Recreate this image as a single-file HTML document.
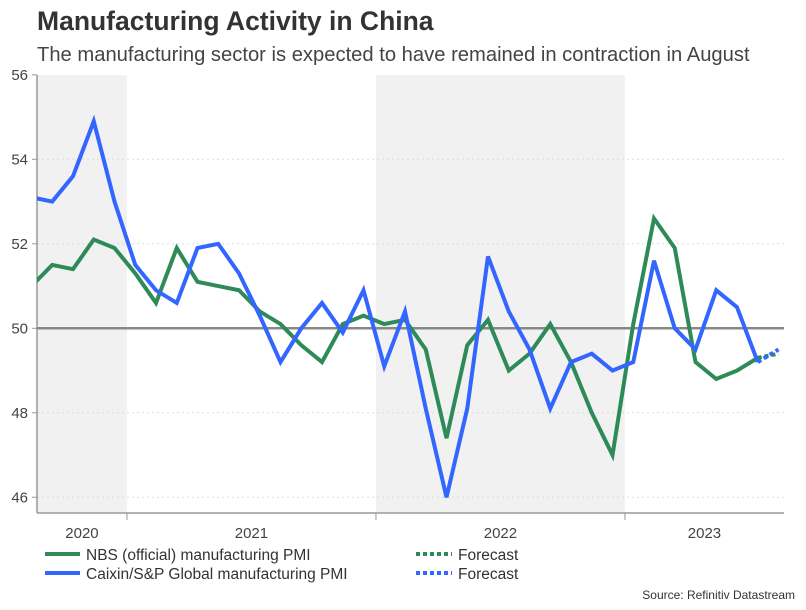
<!DOCTYPE html>
<html><head><meta charset="utf-8"><style>
html,body{margin:0;padding:0;background:#fff;}
body{width:806px;height:605px;overflow:hidden;font-family:"Liberation Sans",sans-serif;}
svg text{font-family:"Liberation Sans",sans-serif;}
</style></head><body>
<svg id="chart" width="806" height="605" xmlns="http://www.w3.org/2000/svg">
<text x="37" y="30" font-size="26.5" font-weight="bold" fill="#333">Manufacturing Activity in China</text>
<text x="37" y="61" font-size="20.2" fill="#444">The manufacturing sector is expected to have remained in contraction in August</text>
<g id="plot"></g>
<g>
<line x1="45" y1="554" x2="80" y2="554" stroke="#2e8b57" stroke-width="4"/>
<text x="86" y="560" font-size="15.5" fill="#333">NBS (official) manufacturing PMI</text>
<line x1="45" y1="573" x2="80" y2="573" stroke="#3366ff" stroke-width="4"/>
<text x="86" y="579" font-size="15.5" fill="#333">Caixin/S&amp;P Global manufacturing PMI</text>
<line x1="416" y1="554" x2="452" y2="554" stroke="#2e8b57" stroke-width="4" stroke-dasharray="4,3"/>
<text x="458" y="560" font-size="15.5" fill="#333">Forecast</text>
<line x1="416" y1="573" x2="452" y2="573" stroke="#3366ff" stroke-width="4" stroke-dasharray="4,3"/>
<text x="458" y="579" font-size="15.5" fill="#333">Forecast</text>
</g>
<text x="795" y="599" font-size="12" fill="#333" text-anchor="end">Source: Refinitiv Datastream</text>
</svg>
<script>
const nbs = [51.0,51.5,51.4,52.1,51.9,51.3,50.6,51.9,51.1,51.0,50.9,50.4,50.1,49.6,49.2,50.1,50.3,50.1,50.2,49.5,47.4,49.6,50.2,49.0,49.4,50.1,49.2,48.0,47.0,50.1,52.6,51.9,49.2,48.8,49.0,49.3];
const caixin = [53.1,53.0,53.6,54.9,53.0,51.5,50.9,50.6,51.9,52.0,51.3,50.3,49.2,50.0,50.6,49.9,50.9,49.1,50.4,48.1,46.0,48.1,51.7,50.4,49.5,48.1,49.2,49.4,49.0,49.2,51.6,50.0,49.5,50.9,50.5,49.2];
const nbsForecast = [49.3,49.4];
const caixinForecast = [49.2,49.5];
const yTicks = [46,48,50,52,54,56];
const years = ["2020","2021","2022","2023"];
const yearStartIdx = [-7,5,17,29]; // month index of January of each year (0 = Aug 2020)
const NS="http://www.w3.org/2000/svg";
const L=37,R=784,T=75,B=513;
const yMin=46,yMax=56,yTop=74.8,yBot=497.3;
function y(v){return yBot-(v-yMin)*(yBot-yTop)/(yMax-yMin);}
function x(i){return 31.5+i*20.75;}
function xb(i){return x(i)-8.3;} // month boundary (start of month)
const g=document.getElementById('plot');
function mk(t,a){const e=document.createElementNS(NS,t);for(const k in a)e.setAttribute(k,a[k]);g.appendChild(e);return e;}
const cp=mk('clipPath',{id:'clip'});cp.appendChild(document.createElementNS(NS,'rect'));
cp.firstChild.setAttribute('x',L);cp.firstChild.setAttribute('y',T-10);cp.firstChild.setAttribute('width',R-L+20);cp.firstChild.setAttribute('height',B-T+10);
[[0,1],[2,3]].forEach(function(p,j){
  const x0=p[0]===0?L:xb(yearStartIdx[p[0]]);
  const x1=xb(yearStartIdx[p[1]]);
  const r=mk('rect',{x:x0,y:T,width:x1-x0,height:B-T,fill:'#f1f1f1'});
  
  
});
yTicks.forEach(function(v){
  if(v!==50&&v!==56){const gl=mk('line',{x1:L,x2:R,y1:y(v),y2:y(v),stroke:'#ddd','stroke-dasharray':'2,3'});
  }
  const tk=mk('line',{x1:L-5,x2:L,y1:y(v),y2:y(v),stroke:'#999'});
  
  const t=mk('text',{x:L-9,y:y(v)+5,'font-size':15,fill:'#444','text-anchor':'end'});t.textContent=v;
  
});
const ax=mk('line',{x1:L,x2:L,y1:T,y2:B,stroke:'#999','stroke-width':1.5});

const bx=mk('line',{x1:L,x2:R,y1:B,y2:B,stroke:'#999','stroke-width':1.5});

const zl=mk('line',{x1:L,x2:R,y1:y(50),y2:y(50),stroke:'#888','stroke-width':2.5});

years.forEach(function(yr,j){
  if(j>0){const tk=mk('line',{x1:xb(yearStartIdx[j]),x2:xb(yearStartIdx[j]),y1:B,y2:B+7,stroke:'#999'});
  }
  const a=j===0?L:xb(yearStartIdx[j]);
  const b=j===years.length-1?R:xb(yearStartIdx[j+1]);
  const t=mk('text',{x:(a+b)/2,y:538,'font-size':15,fill:'#444','text-anchor':'middle'});t.textContent=yr;
  
});
function line(arr,off,color,dash,name){
  const pts=arr.map(function(v,i){return x(i+off)+','+y(v);}).join(' ');
  const a={points:pts,fill:'none',stroke:color,'stroke-width':4,'stroke-linejoin':'miter','clip-path':'url(#clip)'};
  if(dash)a['stroke-dasharray']=dash;
  const p=mk('polyline',a);
  
  
}
line(nbs,0,'#2e8b57',null,'nbs-line');
line(caixin,0,'#3366ff',null,'caixin-line');
line(nbsForecast,nbs.length-1,'#2e8b57','4,3','nbs-forecast-line');
line(caixinForecast,caixin.length-1,'#3366ff','4,3','caixin-forecast-line');
</script>
</body></html>
